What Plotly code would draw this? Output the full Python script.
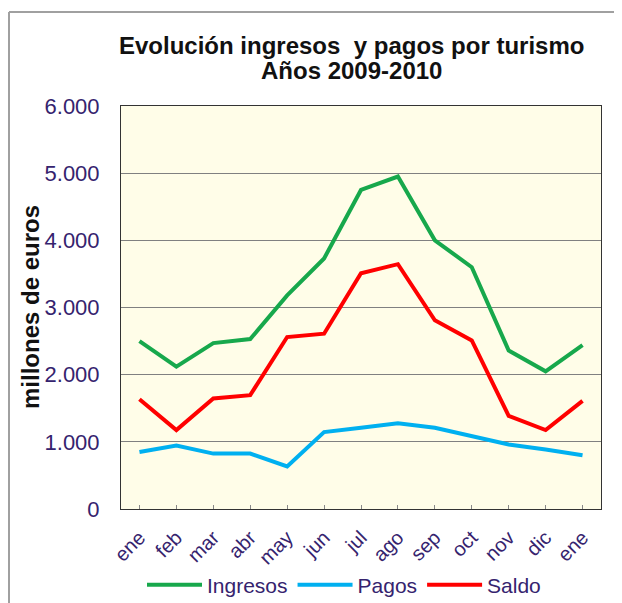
import plotly.graph_objects as go

months = ["ene", "feb", "mar", "abr", "may", "jun", "jul", "ago", "sep", "oct", "nov", "dic", "ene"]
ingresos = [2500, 2120, 2470, 2530, 3180, 3730, 4750, 4950, 4000, 3600, 2360, 2050, 2440]
pagos = [850, 945, 825, 825, 635, 1145, 1210, 1275, 1210, 1085, 960, 885, 800]
saldo = [1635, 1175, 1645, 1695, 2560, 2610, 3510, 3645, 2810, 2510, 1385, 1175, 1610]

x = list(range(len(months)))
txt = "#35236e"

fig = go.Figure()
fig.add_trace(go.Scatter(x=x, y=ingresos, mode="lines", name="Ingresos",
                         line=dict(color="#17a84c", width=4)))
fig.add_trace(go.Scatter(x=x, y=pagos, mode="lines", name="Pagos",
                         line=dict(color="#00b0f0", width=4)))
fig.add_trace(go.Scatter(x=x, y=saldo, mode="lines", name="Saldo",
                         line=dict(color="#ff0000", width=4)))

# page body has an 8px default margin: work in window coordinates, offset by 8
OFF = 8
W, H = 622 - OFF, 603 - OFF
# plot area in window coordinates: x 121..601, y 106..509
L, R, T, B = 121 - OFF, W - (601 - OFF), 106 - OFF, H - (509 - OFF)
pw, ph = W - L - R, H - T - B

def px(xw):
    return (xw - OFF - L) / pw

def py(yw):
    return (H - B - (yw - OFF)) / ph

fig.update_layout(
    width=W, height=H,
    margin=dict(l=L, r=R, t=T, b=B, autoexpand=False),
    paper_bgcolor="white",
    plot_bgcolor="#fffde8",
    separators=",.",
    font=dict(family="Liberation Sans, Arial, sans-serif", size=20, color=txt),
    showlegend=True,
    legend=dict(orientation="h", x=px(344), xanchor="center", y=py(585), yanchor="middle",
                font=dict(size=21, color=txt), itemwidth=55, tracegroupgap=0,
                bgcolor="rgba(0,0,0,0)"),
    xaxis=dict(range=[-0.5, 12.5], tickmode="array", tickvals=x, ticktext=months,
               tickangle=-45, ticks="inside", ticklen=4, tickcolor="#888",
               showgrid=False, showline=True, linecolor="#333", linewidth=1, mirror=True,
               zeroline=False, automargin=False, ticklabelstandoff=8,
               tickfont=dict(size=20, color=txt)),
    yaxis=dict(range=[0, 6000], dtick=1000, tickformat=",d", showgrid=True,
               gridcolor="#808080", gridwidth=1, showline=True, linecolor="#333",
               linewidth=1, mirror=True, zeroline=False, ticks="", automargin=False,
               ticklabelstandoff=16, tickfont=dict(size=22, color=txt)),
    annotations=[
        dict(text="<b>Evolución ingresos  y pagos por turismo</b>",
             xref="paper", yref="paper", x=px(351), y=py(45), xanchor="center",
             yanchor="middle", showarrow=False, font=dict(size=24, color="#111")),
        dict(text="<b>Años 2009-2010</b>",
             xref="paper", yref="paper", x=px(351), y=py(71), xanchor="center",
             yanchor="middle", showarrow=False, font=dict(size=24, color="#111")),
        dict(text="<b>millones de euros</b>", textangle=-90, xref="paper", yref="paper",
             x=px(30), y=py(307), xanchor="center", yanchor="middle", showarrow=False,
             font=dict(size=24, color="#111")),
    ],
    shapes=[
        dict(type="line", xref="paper", yref="paper", x0=px(9), x1=px(9), y0=py(12), y1=py(603),
             line=dict(color="#a0a0a0", width=2)),
        dict(type="line", xref="paper", yref="paper", x0=px(9), x1=px(621), y0=py(12), y1=py(12),
             line=dict(color="#a0a0a0", width=2)),
    ],
)

fig.write_html("out.html")
